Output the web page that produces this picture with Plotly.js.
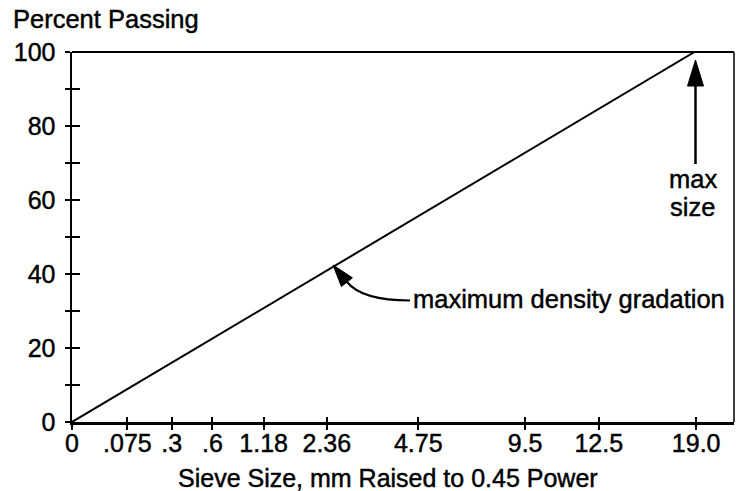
<!DOCTYPE html>
<html>
<head>
<meta charset="utf-8">
<script src="https://cdn.plot.ly/plotly-3.0.1.min.js"></script>
<style>
html,body{margin:0;padding:0;background:#fff;}
#chart{width:736px;height:491px;}
#chart svg text{stroke:#000;stroke-width:0.45px;}
</style>
</head>
<body>
<div id="chart"></div>
<script>
// Sieve sizes (tick labels) and their positions on the 0.45-power axis
var sieveLabels = ['0', '.075', '.3', '.6', '1.18', '2.36', '4.75', '9.5', '12.5', '19.0'];
var sievePositions = [0, 0.334, 0.601, 0.846, 1.155, 1.536, 2.087, 2.731, 3.175, 3.762];
// Maximum density gradation line (x in power-axis units, y percent passing)
var lineX = [0, 3.752];
var lineY = [0, 100];
// Y axis ticks
var yTickVals = [0, 10, 20, 30, 40, 50, 60, 70, 80, 90, 100];
var yTickText = ['0', '', '20', '', '40', '', '60', '', '80', '', '100'];

var W = 736, H = 491;
var mL = 72, mR = 2, mT = 52, mB = 69;
var pw = W - mL - mR, ph = H - mT - mB;
function fx(p) { return (p - mL) / pw; }
function fy(p) { return (H - mB - p) / ph; }
var xMax = 3.99;

var FONT = '"Liberation Sans", Arial, Helvetica, sans-serif';
var fs = 25;
var fa = 25.5;

var traces = [
  {x: lineX, y: lineY, mode: 'lines', line: {color: '#000', width: 2}, hoverinfo: 'skip', showlegend: false},
  {x: [null], y: [null], xaxis: 'x2', yaxis: 'y2', mode: 'lines', hoverinfo: 'skip', showlegend: false}
];

var axBase = {showgrid: false, zeroline: false, fixedrange: true};

function P(pts) {
  return pts.map(function (p, i) { return (i ? 'L' : 'M') + fx(p[0]) + ',' + fy(p[1]); }).join(' ') + ' Z';
}

var layout = {
  width: W, height: H,
  margin: {l: mL, r: mR, t: mT, b: mB, pad: 0},
  paper_bgcolor: '#fff', plot_bgcolor: '#fff',
  font: {family: FONT, size: fs, color: '#000'},
  showlegend: false,
  xaxis: Object.assign({}, axBase, {
    range: [0, xMax], showline: true, linecolor: '#000', linewidth: 2.5,
    tickmode: 'array', tickvals: sievePositions, ticktext: sieveLabels,
    ticks: 'outside', ticklen: 5, tickwidth: 2, tickcolor: '#000',
    tickfont: {family: FONT, size: fs, color: '#000'},
    ticklabelstandoff: -8
  }),
  yaxis: Object.assign({}, axBase, {
    range: [0, 100], showline: true, linecolor: '#000', linewidth: 2.5,
    tickmode: 'array', tickvals: yTickVals, ticktext: yTickText,
    ticks: 'outside', ticklen: 5, tickwidth: 2, tickcolor: '#000',
    tickfont: {family: FONT, size: fs, color: '#000'},
    ticklabelstandoff: 4
  }),
  xaxis2: Object.assign({}, axBase, {
    overlaying: 'x', anchor: 'y2', side: 'bottom', range: [0, xMax], showline: false,
    tickmode: 'array', tickvals: sievePositions, ticks: 'inside', ticklen: 5, tickwidth: 2,
    tickcolor: '#000', showticklabels: false
  }),
  yaxis2: Object.assign({}, axBase, {
    overlaying: 'y', anchor: 'x2', side: 'left', range: [0, 100], showline: false,
    tickmode: 'array', tickvals: yTickVals, ticks: 'inside', ticklen: 8, tickwidth: 2,
    tickcolor: '#000', showticklabels: false
  }),
  shapes: [
    {type: 'line', xref: 'paper', yref: 'paper', x0: 0, x1: 1, y0: 1, y1: 1, line: {color: '#000', width: 2}},
    {type: 'line', xref: 'paper', yref: 'paper', x0: 1, x1: 1, y0: 0, y1: 1, line: {color: '#000', width: 1.5}},
    {type: 'line', xref: 'paper', yref: 'paper', x0: fx(695.5), x1: fx(695.5), y0: fy(164), y1: fy(82), line: {color: '#000', width: 2.5}},
    {type: 'path', xref: 'paper', yref: 'paper', path: P([[695.5, 60], [703.5, 86], [687.5, 86]]), fillcolor: '#000', line: {color: '#000', width: 1}},
    {type: 'path', xref: 'paper', yref: 'paper',
     path: 'M' + fx(410) + ',' + fy(300.5) + ' Q' + fx(362) + ',' + fy(300.5) + ' ' + fx(347) + ',' + fy(282),
     line: {color: '#000', width: 2}},
    {type: 'path', xref: 'paper', yref: 'paper', path: P([[333, 265], [352.4, 277.8], [341.4, 286.6]]), fillcolor: '#000', line: {color: '#000', width: 1}}
  ],
  annotations: [
    {text: 'Percent Passing', xref: 'paper', yref: 'paper', x: fx(11), y: fy(19), xanchor: 'left', yanchor: 'middle', showarrow: false, font: {family: FONT, size: fa, color: '#000'}},
    {text: 'Sieve Size, mm Raised to 0.45 Power', xref: 'paper', yref: 'paper', x: fx(388), y: fy(478), xanchor: 'center', yanchor: 'middle', showarrow: false, font: {family: FONT, size: fs, color: '#000'}},
    {text: 'max', xref: 'paper', yref: 'paper', x: fx(693), y: fy(179), xanchor: 'center', yanchor: 'middle', showarrow: false, font: {family: FONT, size: fa, color: '#000'}},
    {text: 'size', xref: 'paper', yref: 'paper', x: fx(692), y: fy(207), xanchor: 'center', yanchor: 'middle', showarrow: false, font: {family: FONT, size: fa, color: '#000'}},
    {text: 'maximum density gradation', xref: 'paper', yref: 'paper', x: fx(411), y: fy(299), xanchor: 'left', yanchor: 'middle', showarrow: false, font: {family: FONT, size: fa, color: '#000'}}
  ]
};

Plotly.newPlot('chart', traces, layout, {displayModeBar: false, staticPlot: true});
</script>
</body>
</html>
